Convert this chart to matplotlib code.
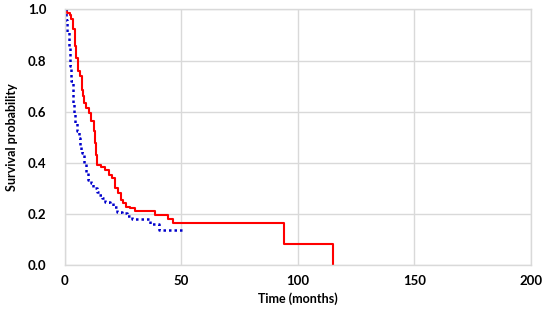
import numpy as np
import matplotlib.pyplot as plt

plt.rcParams['font.family'] = ['Lato', 'DejaVu Sans']

# Kaplan-Meier step data (time in months, survival)
red_t = [0, 1.1, 2.1, 2.8, 3.6, 4.3, 4.6, 5.0, 5.7, 6.4, 6.8, 7.4, 7.9, 8.3,
         9.2, 10.3, 11.4, 12.5, 13.1, 13.5, 14.0, 15.4, 17.2, 19.1, 20.5,
         21.5, 22.9, 24.0, 25.0, 26.5, 28.0, 30.2, 38.8, 44.2, 46.6, 94.1, 115.0]
red_s = [1.0, 0.987, 0.98, 0.961, 0.922, 0.895, 0.856, 0.81, 0.758, 0.745,
         0.738, 0.686, 0.66, 0.634, 0.615, 0.595, 0.562, 0.523, 0.477, 0.43,
         0.392, 0.385, 0.373, 0.353, 0.34, 0.30, 0.281, 0.255, 0.242, 0.229,
         0.222, 0.213, 0.197, 0.179, 0.163, 0.081, 0.0]

blue_t = [0, 0.5, 1.1, 1.7, 2.3, 2.8, 3.4, 4.0, 4.5, 5.4, 6.0, 6.6, 7.1, 7.4,
          8.3, 9.1, 10.1, 11.2, 12.3, 13.7, 14.8, 15.9, 17.3, 19.4, 20.9,
          22.3, 24.5, 26.6, 28.8, 36.6, 40.6, 50.5]
blue_s = [1.0, 0.96, 0.91, 0.856, 0.778, 0.72, 0.634, 0.595, 0.556, 0.523,
          0.497, 0.47, 0.45, 0.438, 0.399, 0.36, 0.333, 0.32, 0.30, 0.287,
          0.275, 0.261, 0.248, 0.242, 0.229, 0.209, 0.203, 0.192, 0.179,
          0.161, 0.137, 0.137]

xticks = [0, 50, 100, 150, 200]
yticks = [0.0, 0.2, 0.4, 0.6, 0.8, 1.0]

fig = plt.figure(figsize=(5.43, 3.13), dpi=100)
ax = fig.add_axes([0.119, 0.153, 0.859, 0.817])

ax.plot(red_t, red_s, drawstyle='steps-post', color='#ff0000', lw=1.5)
ax.plot(blue_t, blue_s, drawstyle='steps-post', color='#0000cc', lw=1.8,
        linestyle=(0, (1, 1.2)))

ax.set_xlim(0, 200)
ax.set_ylim(0, 1.0)
ax.set_xticks(xticks)
ax.set_yticks(yticks)
ax.set_yticklabels(['%.1f' % v for v in yticks])
ax.grid(True, color='#d9d9d9', lw=1)
ax.set_axisbelow(True)
for sp in ax.spines.values():
    sp.set_color('#d9d9d9')
    sp.set_linewidth(1)
ax.tick_params(length=0, labelsize=9.5)
ax.tick_params(axis='y', pad=13)
ax.tick_params(axis='x', pad=7)
for lab in ax.get_xticklabels() + ax.get_yticklabels():
    lab.set_fontweight('bold')

ax.set_xlabel('Time (months)', fontsize=9, fontweight='bold', labelpad=4)
ax.set_ylabel('Survival probability', fontsize=9, fontweight='bold', labelpad=7)

fig.savefig('out.png', dpi=100)
